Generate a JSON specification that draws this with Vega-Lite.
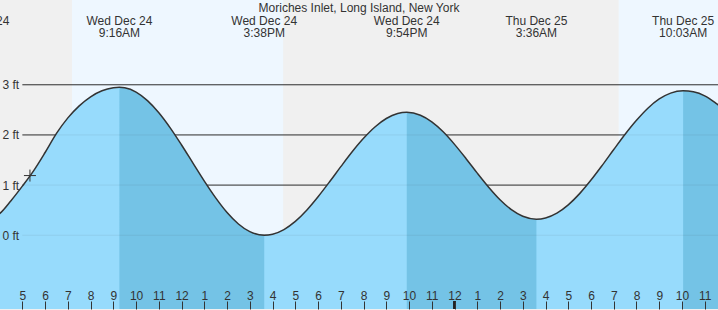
{
  "$schema": "https://vega.github.io/schema/vega-lite/v6.json",
  "width": 718,
  "height": 310,
  "autosize": {"type": "fit", "contains": "padding"},
  "padding": 0,
  "background": "#f0f0f0",
  "config": {"view": {"stroke": null}, "font": "Liberation Sans"},
  "datasets": {
    "day": [
      {"start": "2025-12-24T07:11:00", "end": "2025-12-24T16:28:00"},
      {"start": "2025-12-25T07:13:00", "end": "2025-12-25T16:29:00"}
    ],
    "levels": [{"level": 0}, {"level": 1}, {"level": 2}, {"level": 3}],
    "tide": [
      {"t": "2025-12-24T02:59:00", "v": 0.25, "seg": "F0", "phase": "falling"},
      {"t": "2025-12-24T03:30:00", "v": 0.30, "seg": "R1", "phase": "rising"},
      {"t": "2025-12-24T04:00:00", "v": 0.43, "seg": "R1", "phase": "rising"},
      {"t": "2025-12-24T04:30:00", "v": 0.69, "seg": "R1", "phase": "rising"},
      {"t": "2025-12-24T05:00:00", "v": 0.98, "seg": "R1", "phase": "rising"},
      {"t": "2025-12-24T05:30:00", "v": 1.29, "seg": "R1", "phase": "rising"},
      {"t": "2025-12-24T06:00:00", "v": 1.65, "seg": "R1", "phase": "rising"},
      {"t": "2025-12-24T06:30:00", "v": 2.03, "seg": "R1", "phase": "rising"},
      {"t": "2025-12-24T07:00:00", "v": 2.34, "seg": "R1", "phase": "rising"},
      {"t": "2025-12-24T07:30:00", "v": 2.58, "seg": "R1", "phase": "rising"},
      {"t": "2025-12-24T08:00:00", "v": 2.76, "seg": "R1", "phase": "rising"},
      {"t": "2025-12-24T08:30:00", "v": 2.88, "seg": "R1", "phase": "rising"},
      {"t": "2025-12-24T09:00:00", "v": 2.94, "seg": "R1", "phase": "rising"},
      {"t": "2025-12-24T09:16:00", "v": 2.95, "seg": "F1", "phase": "falling"},
      {"t": "2025-12-24T09:30:00", "v": 2.94, "seg": "F1", "phase": "falling"},
      {"t": "2025-12-24T10:00:00", "v": 2.855, "seg": "F1", "phase": "falling"},
      {"t": "2025-12-24T10:30:00", "v": 2.685, "seg": "F1", "phase": "falling"},
      {"t": "2025-12-24T11:00:00", "v": 2.443, "seg": "F1", "phase": "falling"},
      {"t": "2025-12-24T11:30:00", "v": 2.142, "seg": "F1", "phase": "falling"},
      {"t": "2025-12-24T12:00:00", "v": 1.8, "seg": "F1", "phase": "falling"},
      {"t": "2025-12-24T12:30:00", "v": 1.439, "seg": "F1", "phase": "falling"},
      {"t": "2025-12-24T13:00:00", "v": 1.08, "seg": "F1", "phase": "falling"},
      {"t": "2025-12-24T13:30:00", "v": 0.746, "seg": "F1", "phase": "falling"},
      {"t": "2025-12-24T14:00:00", "v": 0.454, "seg": "F1", "phase": "falling"},
      {"t": "2025-12-24T14:30:00", "v": 0.225, "seg": "F1", "phase": "falling"},
      {"t": "2025-12-24T15:00:00", "v": 0.072, "seg": "F1", "phase": "falling"},
      {"t": "2025-12-24T15:38:00", "v": 0.0, "seg": "F1", "phase": "falling"},
      {"t": "2025-12-24T16:00:00", "v": 0.021, "seg": "R2", "phase": "rising"},
      {"t": "2025-12-24T16:30:00", "v": 0.114, "seg": "R2", "phase": "rising"},
      {"t": "2025-12-24T17:00:00", "v": 0.276, "seg": "R2", "phase": "rising"},
      {"t": "2025-12-24T17:30:00", "v": 0.499, "seg": "R2", "phase": "rising"},
      {"t": "2025-12-24T18:00:00", "v": 0.768, "seg": "R2", "phase": "rising"},
      {"t": "2025-12-24T18:30:00", "v": 1.062, "seg": "R2", "phase": "rising"},
      {"t": "2025-12-24T19:00:00", "v": 1.368, "seg": "R2", "phase": "rising"},
      {"t": "2025-12-24T19:30:00", "v": 1.665, "seg": "R2", "phase": "rising"},
      {"t": "2025-12-24T20:00:00", "v": 1.933, "seg": "R2", "phase": "rising"},
      {"t": "2025-12-24T20:30:00", "v": 2.159, "seg": "R2", "phase": "rising"},
      {"t": "2025-12-24T21:00:00", "v": 2.328, "seg": "R2", "phase": "rising"},
      {"t": "2025-12-24T21:30:00", "v": 2.426, "seg": "R2", "phase": "rising"},
      {"t": "2025-12-24T21:54:00", "v": 2.45, "seg": "F2", "phase": "falling"},
      {"t": "2025-12-24T22:30:00", "v": 2.392, "seg": "F2", "phase": "falling"},
      {"t": "2025-12-24T23:00:00", "v": 2.26, "seg": "F2", "phase": "falling"},
      {"t": "2025-12-24T23:30:00", "v": 2.062, "seg": "F2", "phase": "falling"},
      {"t": "2025-12-25T00:00:00", "v": 1.812, "seg": "F2", "phase": "falling"},
      {"t": "2025-12-25T00:30:00", "v": 1.532, "seg": "F2", "phase": "falling"},
      {"t": "2025-12-25T01:00:00", "v": 1.238, "seg": "F2", "phase": "falling"},
      {"t": "2025-12-25T01:30:00", "v": 0.958, "seg": "F2", "phase": "falling"},
      {"t": "2025-12-25T02:00:00", "v": 0.708, "seg": "F2", "phase": "falling"},
      {"t": "2025-12-25T02:30:00", "v": 0.51, "seg": "F2", "phase": "falling"},
      {"t": "2025-12-25T03:00:00", "v": 0.378, "seg": "F2", "phase": "falling"},
      {"t": "2025-12-25T03:36:00", "v": 0.32, "seg": "F2", "phase": "falling"},
      {"t": "2025-12-25T04:00:00", "v": 0.344, "seg": "R3", "phase": "rising"},
      {"t": "2025-12-25T04:30:00", "v": 0.441, "seg": "R3", "phase": "rising"},
      {"t": "2025-12-25T05:00:00", "v": 0.606, "seg": "R3", "phase": "rising"},
      {"t": "2025-12-25T05:30:00", "v": 0.83, "seg": "R3", "phase": "rising"},
      {"t": "2025-12-25T06:00:00", "v": 1.1, "seg": "R3", "phase": "rising"},
      {"t": "2025-12-25T06:30:00", "v": 1.398, "seg": "R3", "phase": "rising"},
      {"t": "2025-12-25T07:00:00", "v": 1.709, "seg": "R3", "phase": "rising"},
      {"t": "2025-12-25T07:30:00", "v": 2.014, "seg": "R3", "phase": "rising"},
      {"t": "2025-12-25T08:00:00", "v": 2.292, "seg": "R3", "phase": "rising"},
      {"t": "2025-12-25T08:30:00", "v": 2.533, "seg": "R3", "phase": "rising"},
      {"t": "2025-12-25T09:00:00", "v": 2.717, "seg": "R3", "phase": "rising"},
      {"t": "2025-12-25T09:30:00", "v": 2.834, "seg": "R3", "phase": "rising"},
      {"t": "2025-12-25T10:03:00", "v": 2.88, "seg": "F3", "phase": "falling"},
      {"t": "2025-12-25T10:30:00", "v": 2.86, "seg": "F3", "phase": "falling"},
      {"t": "2025-12-25T11:00:00", "v": 2.78, "seg": "F3", "phase": "falling"},
      {"t": "2025-12-25T11:30:00", "v": 2.63, "seg": "F3", "phase": "falling"},
      {"t": "2025-12-25T12:00:00", "v": 2.45, "seg": "F3", "phase": "falling"}
    ],
    "extremes": [
      {"t": "2025-12-24T02:59:00", "label": "Wed Dec 24\n2:59AM"},
      {"t": "2025-12-24T09:16:00", "label": "Wed Dec 24\n9:16AM"},
      {"t": "2025-12-24T15:38:00", "label": "Wed Dec 24\n3:38PM"},
      {"t": "2025-12-24T21:54:00", "label": "Wed Dec 24\n9:54PM"},
      {"t": "2025-12-25T03:36:00", "label": "Thu Dec 25\n3:36AM"},
      {"t": "2025-12-25T10:03:00", "label": "Thu Dec 25\n10:03AM"}
    ],
    "place": [{"t": "2025-12-24T19:48:00", "name": "Moriches Inlet, Long Island, New York"}],
    "now": [{"t": "2025-12-24T05:20:00", "v": 1.19}]
  },
  "layer": [
    {
      "data": {"name": "day"},
      "mark": {"type": "rect", "color": "#eef7ff", "clip": true},
      "encoding": {
        "x": {"field": "start", "type": "temporal", "title": null,
          "scale": {"domain": [{"year": 2025, "month": 12, "date": 24, "hours": 4, "minutes": 1}, {"year": 2025, "month": 12, "date": 25, "hours": 11, "minutes": 35}]},
          "axis": {"orient": "bottom", "tickCount": 30, "format": "%-I", "labelOverlap": false, "labelFlush": false, "domain": false, "grid": false, "ticks": true, "tickSize": -8, "tickColor": "#333", "labelPadding": -2, "labelBaseline": "alphabetic", "labelFont": "Liberation Sans", "labelFontSize": 12, "labelColor": "#333", "title": null, "zindex": 1}},
        "x2": {"field": "end"}
      }
    },
    {
      "data": {"name": "levels"},
      "mark": {"type": "rule", "color": "#333", "strokeWidth": 1, "clip": true},
      "encoding": {
        "x": {"datum": {"year": 2025, "month": 12, "date": 24, "hours": 5}, "type": "temporal"},
        "x2": {"datum": {"year": 2025, "month": 12, "date": 25, "hours": 12}},
        "y": {"field": "level", "type": "quantitative", "title": null}
      }
    },
    {
      "data": {"name": "tide"},
      "mark": {"type": "area", "color": "#97dbfc", "interpolate": "monotone", "clip": true},
      "encoding": {
        "x": {"field": "t", "type": "temporal", "title": null},
        "y": {"field": "v", "type": "quantitative", "title": null,
          "scale": {"domain": [-1.47, 4.69], "nice": false, "zero": false},
          "axis": {"orient": "left", "values": [0, 1, 2, 3], "labelExpr": "datum.value + ' ft'", "ticks": false, "domain": false, "grid": false, "labelAlign": "left", "labelPadding": -2, "labelBaseline": "middle", "labelFont": "Liberation Sans", "labelFontSize": 12, "labelColor": "#333", "title": null, "zindex": 1}},
        "y2": {"datum": -1.47}
      }
    },
    {
      "data": {"name": "tide"},
      "transform": [{"filter": "datum.phase === 'falling'"}],
      "mark": {"type": "area", "color": "#74c3e6", "interpolate": "monotone", "clip": true},
      "encoding": {
        "x": {"field": "t", "type": "temporal", "title": null},
        "y": {"field": "v", "type": "quantitative", "title": null},
        "y2": {"datum": -1.47},
        "detail": {"field": "seg"}
      }
    },
    {
      "data": {"name": "levels"},
      "mark": {"type": "rule", "color": "#333", "strokeWidth": 1, "opacity": 0.08, "clip": true},
      "encoding": {
        "x": {"datum": {"year": 2025, "month": 12, "date": 24, "hours": 5}, "type": "temporal"},
        "x2": {"datum": {"year": 2025, "month": 12, "date": 25, "hours": 12}},
        "y": {"field": "level", "type": "quantitative", "title": null}
      }
    },
    {
      "data": {"name": "tide"},
      "mark": {"type": "line", "color": "#333", "strokeWidth": 1.5, "interpolate": "monotone", "clip": true},
      "encoding": {
        "x": {"field": "t", "type": "temporal", "title": null},
        "y": {"field": "v", "type": "quantitative", "title": null}
      }
    },
    {
      "data": {"name": "levels"},
      "transform": [{"filter": "datum.level === 0"}],
      "mark": {"type": "rule", "color": "#222", "strokeWidth": 3, "clip": true},
      "encoding": {
        "x": {"datum": {"year": 2025, "month": 12, "date": 25, "hours": 0}, "type": "temporal"},
        "y": {"datum": -1.47},
        "y2": {"datum": -1.311}
      }
    },
    {
      "data": {"name": "now"},
      "mark": {"type": "point", "shape": "M-1,0L1,0M0,-1L0,1", "size": 144, "filled": false, "stroke": "#333", "strokeWidth": 1, "opacity": 1, "clip": true},
      "encoding": {
        "x": {"field": "t", "type": "temporal", "title": null},
        "y": {"field": "v", "type": "quantitative", "title": null}
      }
    },
    {
      "data": {"name": "extremes"},
      "mark": {"type": "text", "align": "center", "baseline": "alphabetic", "lineBreak": "\n", "lineHeight": 11.5, "fontSize": 12, "font": "Liberation Sans", "color": "#333", "clip": true},
      "encoding": {
        "x": {"field": "t", "type": "temporal", "title": null},
        "y": {"datum": 4.19},
        "text": {"field": "label"}
      }
    },
    {
      "data": {"name": "place"},
      "mark": {"type": "text", "align": "center", "baseline": "alphabetic", "fontSize": 12, "font": "Liberation Sans", "color": "#333", "clip": true},
      "encoding": {
        "x": {"field": "t", "type": "temporal", "title": null},
        "y": {"datum": 4.46},
        "text": {"field": "name"}
      }
    }
  ]
}
